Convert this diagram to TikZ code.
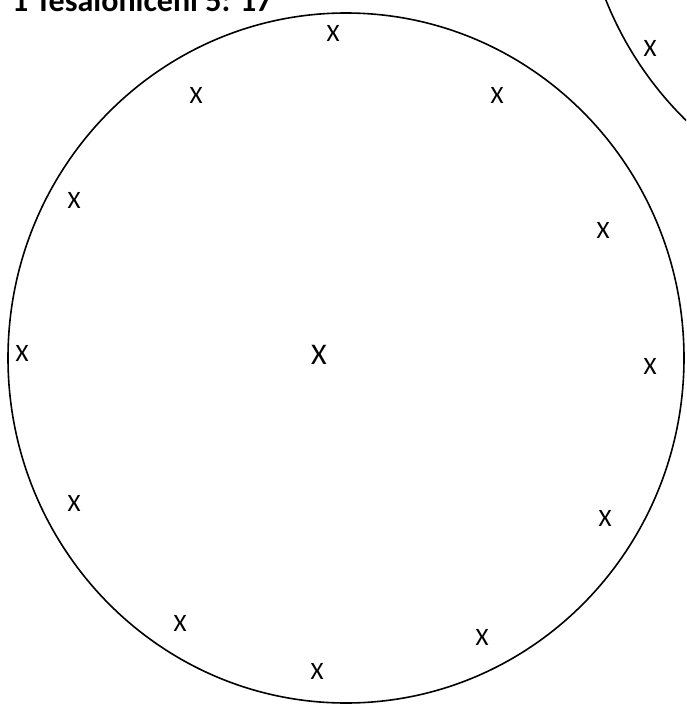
\documentclass[tikz,border=0pt]{standalone}
\usepackage{fontspec}
\setmainfont{Carlito}
\begin{document}
\begin{tikzpicture}[x=1pt,y=-1pt,
  xlab/.style={inner sep=0pt, font=\fontsize{25}{25}\selectfont},
  xbig/.style={inner sep=0pt, font=\fontsize{30}{30}\selectfont},
  ring/.style={draw=black, line width=1.6pt}]
\useasboundingbox (0,0) rectangle (686,704);
\begin{scope}
\clip (0,0) rectangle (686,704);
\draw[ring] (346,358) ellipse [x radius=338, y radius=345];
\draw[ring] (932,-130) circle [radius=351];
\end{scope}
\node[anchor=base west, inner sep=0pt, font=\fontsize{32}{32}\selectfont\bfseries] (title) at (12,12) {1 Tesaloniceni 5: 17};
\node[xlab] (x1) at (333,33.5) {X};
\node[xlab] (x2) at (196,95) {X};
\node[xlab] (x3) at (497,95) {X};
\node[xlab] (x4) at (74,200) {X};
\node[xlab] (x5) at (603,230) {X};
\node[xlab] (x6) at (22,353) {X};
\node[xbig] (xc) at (319,355) {X};
\node[xlab] (x7) at (650,366) {X};
\node[xlab] (x8) at (74,503) {X};
\node[xlab] (x9) at (605,518) {X};
\node[xlab] (x10) at (180,623) {X};
\node[xlab] (x11) at (482,637) {X};
\node[xlab] (x12) at (317,671) {X};
\node[xlab] (x13) at (650,48.5) {X};
\end{tikzpicture}
\end{document}
